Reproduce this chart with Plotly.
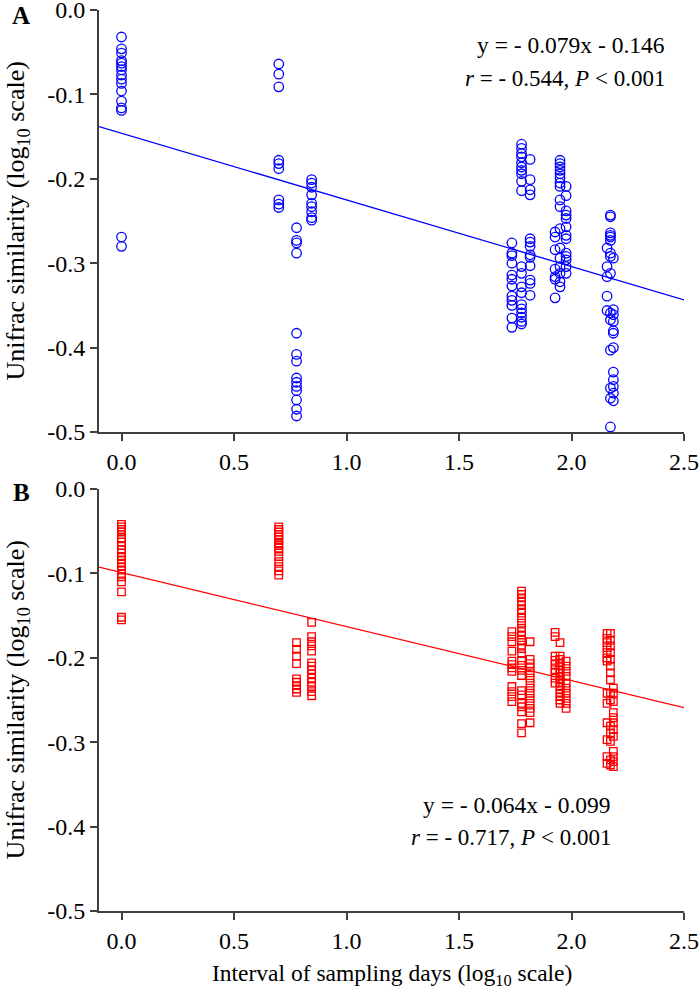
import plotly.graph_objects as go

# ---------------- Data ----------------
# x positions (log10 of sampling interval days) of each point column
x_groups = [0.0, 0.699, 0.778, 0.845, 1.735, 1.778, 1.816, 1.927, 1.949, 1.976, 2.158, 2.173, 2.186]

# Panel A: Unifrac similarity (log10), one list per x column
a_y = [
    [-0.032, -0.046, -0.051, -0.060, -0.063, -0.067, -0.071, -0.077, -0.082, -0.087, -0.096, -0.108, -0.116, -0.119, -0.269, -0.280],
    [-0.064, -0.076, -0.091, -0.178, -0.182, -0.188, -0.225, -0.230, -0.234],
    [-0.258, -0.273, -0.276, -0.288, -0.383, -0.408, -0.416, -0.436, -0.441, -0.446, -0.451, -0.462, -0.473, -0.481],
    [-0.201, -0.205, -0.210, -0.219, -0.229, -0.233, -0.239, -0.246, -0.249],
    [-0.276, -0.288, -0.291, -0.300, -0.314, -0.319, -0.327, -0.339, -0.344, -0.350, -0.365, -0.376],
    [-0.159, -0.164, -0.170, -0.174, -0.181, -0.186, -0.190, -0.194, -0.203, -0.214,
     -0.304, -0.312, -0.328, -0.335, -0.349, -0.354, -0.359, -0.364, -0.369, -0.372],
    [-0.177, -0.201, -0.213, -0.219, -0.271, -0.275, -0.280, -0.290, -0.293, -0.303, -0.320, -0.324, -0.338],
    [-0.263, -0.269, -0.284, -0.307, -0.316, -0.319, -0.341],
    [-0.178, -0.182, -0.186, -0.190, -0.194, -0.199, -0.205, -0.209, -0.225, -0.233, -0.259, -0.282, -0.294, -0.304, -0.312, -0.322, -0.328],
    [-0.209, -0.220, -0.238, -0.243, -0.247, -0.257, -0.267, -0.271, -0.288, -0.292, -0.296, -0.304, -0.312],
    [-0.282, -0.304, -0.316, -0.339, -0.356],
    [-0.243, -0.245, -0.264, -0.267, -0.269, -0.273, -0.288, -0.292, -0.312, -0.359, -0.367, -0.403, -0.448, -0.460, -0.494],
    [-0.294, -0.355, -0.361, -0.369, -0.380, -0.383, -0.400, -0.429, -0.438, -0.446, -0.454, -0.463],
]

# Panel B
b_y = [
    [-0.042, -0.045, -0.048, -0.051, -0.054, -0.059, -0.063, -0.067, -0.072, -0.076, -0.080, -0.084, -0.088, -0.092, -0.096, -0.100, -0.104, -0.110, -0.122, -0.152, -0.155],
    [-0.045, -0.048, -0.051, -0.054, -0.057, -0.060, -0.064, -0.067, -0.070, -0.074, -0.080, -0.086, -0.092, -0.097, -0.102],
    [-0.182, -0.190, -0.198, -0.207, -0.225, -0.229, -0.233, -0.237, -0.241],
    [-0.158, -0.175, -0.181, -0.186, -0.192, -0.206, -0.210, -0.214, -0.219, -0.224, -0.229, -0.234, -0.240, -0.245],
    [-0.169, -0.175, -0.181, -0.192, -0.204, -0.208, -0.212, -0.216, -0.234, -0.240, -0.246, -0.252],
    [-0.121, -0.125, -0.129, -0.133, -0.137, -0.143, -0.147, -0.153, -0.159, -0.165, -0.169, -0.173, -0.179, -0.185,
     -0.189, -0.195, -0.203, -0.209, -0.215, -0.221, -0.239, -0.244, -0.254, -0.258, -0.264, -0.278, -0.289],
    [-0.181, -0.202, -0.207, -0.212, -0.218, -0.224, -0.230, -0.236, -0.242, -0.248, -0.254, -0.260, -0.265, -0.277],
    [-0.170, -0.175, -0.198, -0.203, -0.208, -0.214, -0.218, -0.224, -0.230],
    [-0.182, -0.198, -0.202, -0.206, -0.210, -0.214, -0.218, -0.222, -0.226, -0.230, -0.234, -0.238, -0.242, -0.246, -0.250, -0.254],
    [-0.204, -0.210, -0.216, -0.222, -0.230, -0.236, -0.242, -0.248, -0.254, -0.260],
    [-0.171, -0.177, -0.182, -0.188, -0.194, -0.200, -0.204, -0.242, -0.254, -0.277, -0.297, -0.317, -0.325],
    [-0.171, -0.179, -0.186, -0.194, -0.202, -0.210, -0.218, -0.226, -0.242, -0.250, -0.281, -0.289, -0.299, -0.321, -0.327],
    [-0.236, -0.242, -0.252, -0.265, -0.271, -0.277, -0.285, -0.293, -0.311, -0.317, -0.323, -0.329],
]

# Regression fits (slope, intercept)
fit_a = (-0.079, -0.146)
fit_b = (-0.064, -0.099)
x_range = [-0.1, 2.5]
y_range = [-0.5, 0.0]
x_ticks = [0.0, 0.5, 1.0, 1.5, 2.0, 2.5]
y_ticks = [0.0, -0.1, -0.2, -0.3, -0.4, -0.5]

eq_a = ["y = - 0.079x - 0.146", "<i>r</i> = - 0.544, <i>P</i> &lt; 0.001"]
eq_b = ["y = - 0.064x - 0.099", "<i>r</i> = - 0.717, <i>P</i> &lt; 0.001"]


def flatten(groups):
    xs, ys = [], []
    for xv, col in zip(x_groups, groups):
        for v in col:
            xs.append(xv)
            ys.append(v)
    return xs, ys


SERIF = "Liberation Serif, Times New Roman, serif"
AX = "#404040"

fig = go.Figure()

ax_a, ay_a = flatten(a_y)
bx_b, by_b = flatten(b_y)

fig.add_trace(go.Scatter(x=ax_a, y=ay_a, mode="markers", xaxis="x", yaxis="y",
                         marker=dict(symbol="circle-open", size=9.5, color="#0000ff",
                                     line=dict(width=1.3, color="#0000ff")),
                         showlegend=False, hoverinfo="skip"))
fig.add_trace(go.Scatter(x=x_range, y=[fit_a[0] * v + fit_a[1] for v in x_range],
                         mode="lines", xaxis="x", yaxis="y",
                         line=dict(color="#0000ff", width=1.3), showlegend=False, hoverinfo="skip"))

fig.add_trace(go.Scatter(x=bx_b, y=by_b, mode="markers", xaxis="x2", yaxis="y2",
                         marker=dict(symbol="square-open", size=7.5, color="#ff0000",
                                     line=dict(width=1.3, color="#ff0000")),
                         showlegend=False, hoverinfo="skip"))
fig.add_trace(go.Scatter(x=x_range, y=[fit_b[0] * v + fit_b[1] for v in x_range],
                         mode="lines", xaxis="x2", yaxis="y2",
                         line=dict(color="#ff0000", width=1.3), showlegend=False, hoverinfo="skip"))

axis_common = dict(showline=True, linecolor=AX, linewidth=2, ticks="outside",
                   tickcolor=AX, tickwidth=1.5, ticklen=7, showgrid=False,
                   zeroline=False, automargin=False, ticklabeloverflow="allow",
                   tickfont=dict(family=SERIF, size=24, color="black"))

fig.update_layout(
    width=700, height=1001, autosize=False,
    margin=dict(l=99, r=16, t=10, b=90),
    plot_bgcolor="white", paper_bgcolor="white",
    xaxis=dict(domain=[0, 1], anchor="y", range=x_range, tickvals=x_ticks,
               ticktext=[f"{v:.1f}" for v in x_ticks], **axis_common),
    yaxis=dict(domain=[0.5316, 1.0], anchor="x", range=y_range, tickvals=y_ticks,
               ticktext=[f"{v:.1f}" for v in y_ticks], **axis_common),
    xaxis2=dict(domain=[0, 1], anchor="y2", range=x_range, tickvals=x_ticks,
                ticktext=[f"{v:.1f}" for v in x_ticks], **axis_common),
    yaxis2=dict(domain=[0.0, 0.4684], anchor="x2", range=y_range, tickvals=y_ticks,
                ticktext=[f"{v:.1f}" for v in y_ticks], **axis_common),
)

ytitle = "Unifrac similarity (log<sub>10</sub> scale)"
F = lambda s: dict(family=SERIF, size=s, color="black")
ann = [
    dict(text=ytitle, xref="paper", yref="paper", x=-0.1395, y=0.7658, textangle=-90,
         xanchor="center", yanchor="middle", showarrow=False, font=F(26)),
    dict(text=ytitle, xref="paper", yref="paper", x=-0.1395, y=0.2342, textangle=-90,
         xanchor="center", yanchor="middle", showarrow=False, font=F(26)),
    dict(text="Interval of sampling days (log<sub>10</sub> scale)", xref="paper", yref="paper",
         x=0.5, y=-0.071, xanchor="center", yanchor="middle", showarrow=False, font=F(23.5)),
    dict(text="<b>A</b>", xref="paper", yref="paper", x=-0.133, y=0.994,
         xanchor="center", yanchor="middle", showarrow=False, font=F(25)),
    dict(text="<b>B</b>", xref="paper", yref="paper", x=-0.133, y=0.464,
         xanchor="center", yanchor="middle", showarrow=False, font=F(25)),
    dict(text=eq_a[0], xref="paper", yref="paper", x=0.971, y=0.961, xanchor="right",
         yanchor="middle", showarrow=False, font=F(23.5)),
    dict(text=eq_a[1], xref="paper", yref="paper", x=0.971, y=0.9245, xanchor="right",
         yanchor="middle", showarrow=False, font=F(23)),
    dict(text=eq_b[0], xref="paper", yref="paper", x=0.8786, y=0.1176, xanchor="right",
         yanchor="middle", showarrow=False, font=F(23.5)),
    dict(text=eq_b[1], xref="paper", yref="paper", x=0.8786, y=0.0821, xanchor="right",
         yanchor="middle", showarrow=False, font=F(23)),
]
fig.update_layout(annotations=ann)

# remove the browser's default 8px page margin so the 700x1001 figure fills the window
fig.write_html("out.html", config={"displayModeBar": False},
               post_script="document.body.style.margin='0px';")
